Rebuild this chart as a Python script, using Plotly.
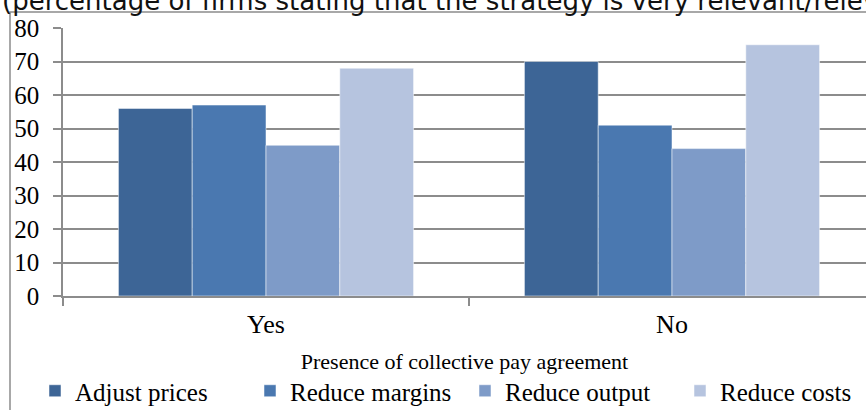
"""Strategy relevance by presence of collective pay agreement."""
import plotly.graph_objects as go

categories = ["Yes", "No"]
series_names = ["Adjust prices", "Reduce margins", "Reduce output", "Reduce costs"]
adjust_prices = [56, 70]
reduce_margins = [57, 51]
reduce_output = [45, 44]
reduce_costs = [68, 75]
y_ticks = [0, 10, 20, 30, 40, 50, 60, 70, 80]

colors = ["#3D6596", "#4A78B0", "#7E9BC8", "#B6C4DF"]
serif = "Liberation Serif, Times New Roman, serif"
grid = "#8C8C8C"

W, H = 866, 410
L, T, B = 63, 28, H - 296
plot_w, plot_h = W - L, H - T - B
cat_px = 406  # pixel width of one category

fig = go.Figure()
for name, vals, col in zip(series_names,
                           [adjust_prices, reduce_margins, reduce_output, reduce_costs],
                           colors):
    fig.add_trace(go.Bar(
        x=categories, y=vals, name=name,
        marker=dict(color=col, line=dict(color="rgba(255,255,255,0.5)", width=1)),
    ))

def px_x(p):  # window pixel -> paper
    return (p - L) / plot_w

def px_y(p):
    return 1 - (p - T) / plot_h

# outer chart border (partly cut off in the reference)
fig.add_shape(type="rect", xref="paper", yref="paper",
              x0=px_x(10), x1=px_x(W + 40), y0=px_y(H + 40), y1=px_y(12),
              line=dict(color=grid, width=1.5), layer="below")

fig.add_annotation(
    text="(percentage of firms stating that the strategy is very relevant/relevant)",
    xref="paper", yref="paper", x=px_x(0), y=px_y(1), xanchor="left", yanchor="middle",
    showarrow=False, font=dict(family="DejaVu Sans", size=26, color="#111"),
)

fig.update_layout(
    width=W, height=H,
    margin=dict(l=L, r=0, t=T, b=B, autoexpand=False),
    paper_bgcolor="white", plot_bgcolor="white",
    barmode="group", bargap=0.273, bargroupgap=0,
    font=dict(family=serif, color="#000"),
    showlegend=True,
    legend=dict(orientation="h", x=px_x(35), y=px_y(368), xanchor="left", yanchor="top",
                font=dict(family=serif, size=25), entrywidth=170, traceorder="normal",
                bgcolor="rgba(0,0,0,0)", itemclick=False),
    xaxis=dict(
        range=[-0.5, -0.5 + plot_w / cat_px],
        showline=True, linecolor=grid, linewidth=1.5,
        ticks="outside", tickson="boundaries", ticklen=8, tickcolor=grid, tickwidth=1.5,
        tickfont=dict(size=26), ticklabelstandoff=4,
        title=dict(text="Presence of collective pay agreement", font=dict(size=22), standoff=16),
    ),
    yaxis=dict(
        range=[0, 80], tickvals=y_ticks,
        showline=True, linecolor=grid, linewidth=1.5,
        showgrid=True, gridcolor=grid, gridwidth=1.5,
        ticks="outside", ticklen=8, tickcolor=grid, tickwidth=1.5,
        tickfont=dict(size=25), ticklabelstandoff=9, zeroline=False,
    ),
)

# drop the default 8px body margin so the figure sits at the window corner
fig.write_html("out.html", config={"displayModeBar": False},
               post_script="document.body.style.margin = '0';")
